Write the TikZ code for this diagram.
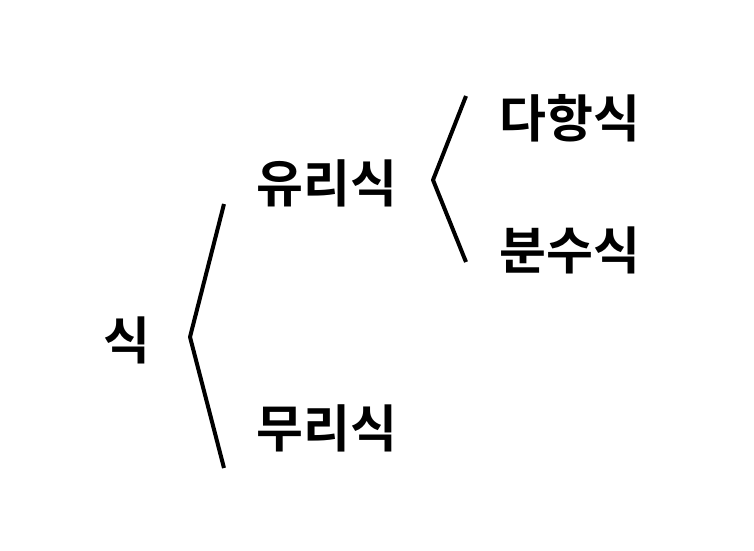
\documentclass[tikz,border=0pt]{standalone}
\usepackage{fontspec}
\newfontfamily\kr{Noto Sans CJK KR Bold}
\usetikzlibrary{positioning}

\begin{document}
\begin{tikzpicture}[x=1pt, y=1pt]
    \useasboundingbox (0,0) rectangle (754,550);
    \tikzset{word/.style={inner sep=0pt, font=\kr\fontsize{51}{51}\selectfont}}
    \tikzset{brace/.style={line width=4pt, line join=round}}

    \node[word] (S) at (127,210) {식};
    \node[word] (R) at (327,367) {유리식};
    \node[word] (I) at (327,122) {무리식};
    \node[word] (P) at (570,432) {다항식};
    \node[word] (F) at (570,300) {분수식};

    % first split
    \coordinate (S1) at (224,346);
    \coordinate (S0) at (190,213);
    \coordinate (S2) at (224,82);
    \draw[brace] (S1) -- (S0) -- (S2);

    % second split
    \coordinate (R1) at (466,454);
    \coordinate (R0) at (433,370);
    \coordinate (R2) at (466,288);
    \draw[brace] (R1) -- (R0) -- (R2);
\end{tikzpicture}
\end{document}
